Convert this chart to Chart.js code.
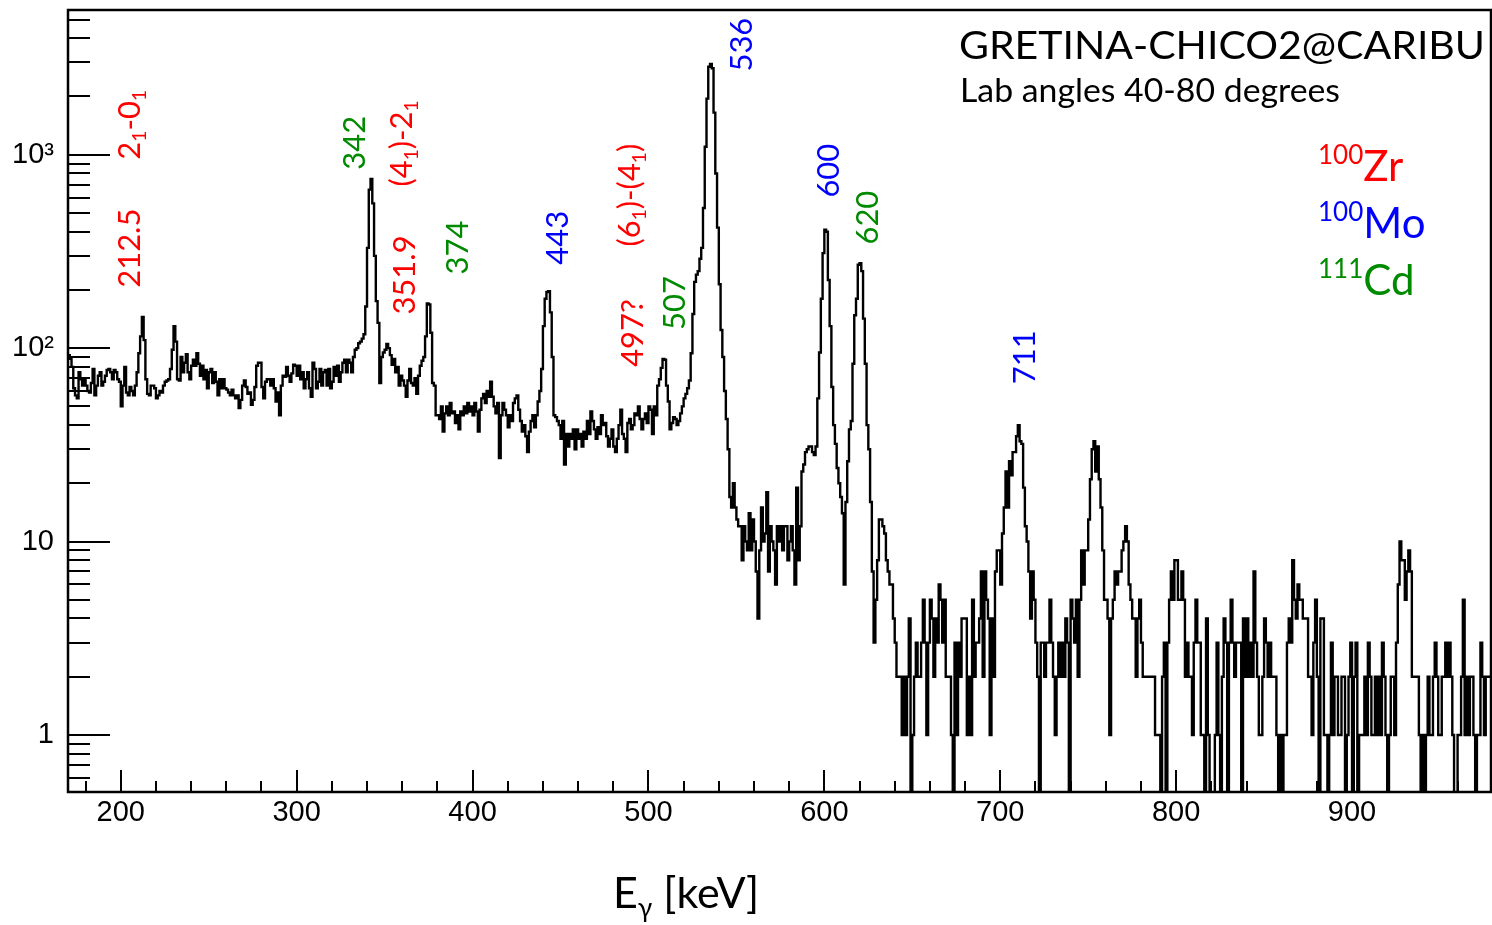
<!DOCTYPE html>
<html>
<head>
<meta charset="utf-8">
<title>GRETINA-CHICO2@CARIBU gamma spectrum</title>
<script src="https://cdn.jsdelivr.net/npm/chart.js@4.4.1/dist/chart.umd.min.js"></script>
<style>
  html, body { margin: 0; padding: 0; background: #fff; }
  #wrap { width: 1492px; height: 925px; }
</style>
</head>
<body>
<div id="wrap"><canvas id="spectrum" width="1492" height="925"></canvas></div>
<script>
(function () {
    "use strict";

    // Spectrum data: 1 keV bins starting at 170 keV
    var binStart = 170;
    var binWidth = 1;
    var counts = [
        // 170
        92, 88, 80, 62, 57, 55, 75, 69, 64, 69,
        64, 60, 59, 66, 78, 57, 64, 72, 75, 64,
        67, 72, 77, 78, 75, 69, 77, 75, 69, 67,
        50, 64, 80, 59, 57, 63, 60, 57, 64, 75,
        94, 115, 145, 110, 69, 58, 57, 64, 64, 62,
        55, 57, 60, 59, 64, 67, 68, 69, 78, 98,
        130, 108, 69, 68, 90, 75, 84, 93, 75, 69,
        81, 87, 81, 94, 83, 72, 81, 69, 77, 62,
        75, 78, 66, 75, 67, 57, 69, 62, 69, 62,
        61, 59, 57, 61, 57, 55, 57, 49, 54, 64,
        68, 63, 58, 59, 51, 54, 63, 81, 84, 84,
        63, 55, 67, 69, 69, 64, 69, 62, 53, 59,
        45, 64, 72, 71, 80, 72, 67, 74, 82, 81,
        // 300
        72, 81, 69, 75, 62, 69, 75, 62, 56, 84,
        78, 62, 67, 78, 64, 75, 77, 64, 78, 62,
        67, 80, 72, 81, 67, 75, 84, 87, 75, 87,
        84, 75, 90, 98, 100, 106, 108, 112, 118, 164,
        330, 660, 750, 560, 300, 175, 135, 66, 90, 95,
        98, 105, 100, 92, 82, 88, 75, 80, 64, 72,
        68, 64, 56, 68, 78, 66, 64, 70, 58, 72,
        81, 86, 90, 115, 170, 168, 120, 66, 64, 45,
        45, 43, 50, 37, 46, 50, 45, 52, 46, 47,
        41, 45, 38, 47, 45, 50, 46, 52, 47, 50,
        // 400
        45, 52, 47, 37, 48, 55, 58, 52, 60, 56,
        67, 56, 50, 46, 52, 27, 45, 52, 48, 45,
        39, 45, 42, 52, 55, 57, 48, 42, 37, 40,
        35, 29, 37, 42, 45, 39, 45, 53, 60, 78,
        130, 180, 195, 197, 153, 90, 45, 44, 42, 40,
        34, 42, 25, 36, 31, 36, 34, 38, 30, 38,
        34, 36, 31, 37, 34, 42, 36, 47, 42, 38,
        34, 39, 36, 45, 40, 41, 35, 31, 34, 38,
        31, 29, 34, 40, 48, 36, 34, 29, 41, 43,
        38, 40, 46, 45, 50, 43, 38, 43, 46, 41,
        // 500
        50, 48, 36, 50, 45, 64, 69, 79, 88, 87,
        64, 53, 38, 41, 44, 43, 40, 42, 46, 50,
        55, 58, 62, 68, 94, 150, 220, 240, 250, 290,
        330, 530, 1100, 1950, 2850, 2950, 2800, 1650, 800, 420,
        214, 124, 90, 60, 43, 30, 17, 15, 20, 15,
        13, 12, 12, 8, 12, 10, 9, 14, 9, 13,
        10, 7, 4, 9, 15, 10, 11, 18, 7, 12,
        10, 9, 6, 12, 10, 12, 9, 12, 12, 8,
        10, 12, 9, 6, 19, 8, 12, 23, 25, 29,
        30, 31, 31, 29, 28, 31, 55, 95, 180, 310,
        // 600
        410, 400, 225, 130, 63, 40, 32, 24, 20, 17,
        14, 6, 16, 26, 38, 42, 83, 148, 180, 270,
        275, 250, 142, 83, 40, 30, 16, 7, 3, 5,
        8, 13, 13, 12, 11, 8, 7, 6, 6, 4,
        3, 2, 2, 2, 1, 2, 1, 2, 4, 0,
        1, 2, 3, 2, 2, 3, 5, 3, 1, 3,
        5, 4, 2, 4, 3, 6, 5, 3, 5, 2,
        2, 2, 1, 0, 3, 1, 3, 2, 4, 4,
        4, 1, 2, 1, 5, 2, 3, 3, 4, 7,
        2, 7, 5, 4, 1, 4, 2, 7, 9, 9,
        // 700
        6, 11, 15, 23, 15, 26, 22, 29, 29, 35,
        40, 33, 32, 19, 12, 10, 7, 4, 7, 5,
        3, 2, 0, 3, 3, 2, 3, 3, 5, 3,
        2, 1, 2, 3, 2, 3, 2, 4, 3, 0,
        5, 4, 3, 5, 2, 5, 9, 6, 9, 9,
        13, 21, 30, 33, 23, 31, 21, 15, 9, 5,
        5, 4, 1, 4, 5, 7, 6, 7, 7, 9,
        10, 12, 10, 6, 5, 4, 4, 2, 4, 5,
        3, 2, 2, 2, 2, 2, 2, 2, 1, 1,
        1, 0, 2, 3, 0, 3, 5, 7, 5, 8,
        // 800
        8, 5, 5, 7, 5, 2, 3, 2, 2, 1,
        3, 5, 3, 3, 1, 1, 0, 4, 1, 0,
        0, 0, 1, 3, 1, 0, 2, 4, 3, 0,
        3, 5, 3, 2, 3, 3, 3, 0, 4, 2,
        4, 2, 3, 2, 7, 3, 2, 1, 1, 2,
        4, 3, 2, 3, 2, 2, 2, 1, 0, 1,
        0, 1, 1, 3, 4, 3, 8, 5, 4, 6,
        5, 5, 4, 4, 4, 2, 2, 1, 3, 5,
        2, 0, 4, 4, 1, 1, 0, 1, 3, 1,
        2, 2, 1, 1, 2, 2, 0, 1, 2, 3,
        // 900
        0, 2, 3, 0, 1, 1, 1, 2, 1, 3,
        2, 1, 1, 2, 1, 2, 1, 3, 2, 1,
        0, 1, 2, 2, 1, 3, 6, 10, 8, 8,
        5, 7, 9, 7, 2, 2, 2, 2, 1, 0,
        1, 0, 1, 2, 1, 1, 2, 3, 2, 1,
        1, 2, 2, 3, 2, 3, 2, 1, 0, 0,
        1, 1, 2, 5, 1, 2, 1, 2, 2, 1,
        0, 1, 1, 3, 2, 1, 2, 2, 2
    ];

    // Axis ranges and tick labels
    var xRange = [170, 979];
    var yRange = [0.507, 5600];
    var xTickValues = [200, 300, 400, 500, 600, 700, 800, 900];
    var yTickValues = [1, 10, 100, 1000];
    var yTickLabels = ['1', '10', '10\u00b2', '10\u00b3'];

    // Peak annotations (text, baseline energy, counts where the text starts)
    var RED = '#ff0000', GREEN = '#008a00', BLUE = '#0000ff';
    var peakTexts  = ['2_{1}-0_{1}', '212.5', '342', '(4_{1})-2_{1}', '351.9', '374', '443',
                      '(6_{1})-(4_{1})', '497?', '507', '536', '600', '620', '711'];
    var peakColors = [RED, RED, GREEN, RED, RED, GREEN, BLUE, RED, RED, GREEN, BLUE, BLUE, GREEN, BLUE];
    var peakTextE  = [210.8, 210.8, 338.7, 365.4, 367.2, 397.3, 454.2, 495.1, 496.8, 520.7, 558.8, 608.2, 630.4, 719.7];
    var peakTextC  = [943, 205, 837, 684, 149, 240, 270, 335, 80, 124, 2690, 600, 343, 65];

    // Nuclei legend
    var nuclei = ['^{100}Zr', '^{100}Mo', '^{111}Cd'];
    var nucleiColors = [RED, BLUE, GREEN];

    var points = counts.map(function (c, i) {
        // empty bins fall below the frame, as in ROOT
        return { x: binStart + (i + 0.5) * binWidth, y: c > 0 ? c : 0.1 };
    });

    // Small TLatex-like helper: _{sub} and ^{sup}
    function parseRich(str) {
        var parts = [], re = /([_^])\{([^}]*)\}|([^_^]+)/g, m;
        while ((m = re.exec(str))) {
            if (m[3]) parts.push({ t: m[3], k: 0 });
            else parts.push({ t: m[2], k: m[1] === '_' ? -1 : 1 });
        }
        return parts;
    }

    function drawRich(ctx, str, x, y, size, color, vertical, fitWidth) {
        var parts = parseRich(str);
        ctx.save();
        ctx.translate(x, y);
        if (vertical) ctx.rotate(-Math.PI / 2);
        ctx.fillStyle = color;
        ctx.textAlign = 'left';
        ctx.textBaseline = 'alphabetic';
        if (fitWidth) {
            var w = 0;
            parts.forEach(function (p) {
                ctx.font = (p.k ? size * 0.62 : size) + 'px Lato';
                w += ctx.measureText(p.t).width;
            });
            ctx.scale(fitWidth / w, 1);
        }
        var cx = 0;
        parts.forEach(function (p) {
            ctx.font = (p.k ? size * 0.62 : size) + 'px Lato';
            var dy = p.k < 0 ? size * 0.2 : (p.k > 0 ? -size * 0.4 : 0);
            ctx.fillText(p.t, cx, dy);
            cx += ctx.measureText(p.t).width;
        });
        ctx.restore();
    }

    // Frame, inside ticks and all the text on top
    var rootStyle = {
        id: 'rootStyle',
        afterDraw: function (chart) {
            var ctx = chart.ctx, a = chart.chartArea;
            var xs = chart.scales.x, ys = chart.scales.y;
            ctx.save();
            ctx.strokeStyle = '#000';
            ctx.lineWidth = 2;
            ctx.beginPath();
            for (var v = 180; v <= xRange[1]; v += 20) {
                var px = Math.round(xs.getPixelForValue(v));
                ctx.moveTo(px, a.bottom);
                ctx.lineTo(px, a.bottom - (v % 100 === 0 ? 22 : 11));
            }
            for (var e = -1; e <= 3; e++) {
                for (var k = 1; k <= 9; k++) {
                    var val = k * Math.pow(10, e);
                    if (val < yRange[0] || val > yRange[1]) continue;
                    var py = Math.round(ys.getPixelForValue(val));
                    ctx.moveTo(a.left, py);
                    ctx.lineTo(a.left + (k === 1 ? 42 : 22), py);
                }
            }
            ctx.stroke();
            ctx.lineWidth = 2.5;
            ctx.strokeRect(a.left, a.top, a.right - a.left, a.bottom - a.top);
            ctx.restore();

            peakTexts.forEach(function (t, i) {
                drawRich(ctx, t, xs.getPixelForValue(peakTextE[i]), ys.getPixelForValue(peakTextC[i]),
                    31, peakColors[i], true);
            });

            drawRich(ctx, 'GRETINA-CHICO2@CARIBU', 959, 59, 38, '#000', false, 526);
            drawRich(ctx, 'Lab angles 40-80 degrees', 960, 102, 32, '#000', false, 380);

            nuclei.forEach(function (t, i) {
                drawRich(ctx, t, 1318, 181 + i * 57, 42, nucleiColors[i], false);
            });

            drawRich(ctx, 'E_{\u03b3} [keV]', 613, 908, 43, '#000', false);
        }
    };

    var tickFont = { family: 'Liberation Sans, Arial, sans-serif', size: 29 };

    function noPadding(scale) {
        scale.paddingTop = 0;
        scale.paddingBottom = 0;
        scale.paddingLeft = 0;
        scale.paddingRight = 0;
    }

    new Chart(document.getElementById('spectrum').getContext('2d'), {
        type: 'line',
        data: {
            datasets: [{
                label: 'counts',
                data: points,
                stepped: 'middle',
                borderColor: '#000',
                borderWidth: 2.4,
                pointRadius: 0,
                fill: false
            }]
        },
        options: {
            responsive: false,
            animation: false,
            devicePixelRatio: 1,
            layout: { padding: { left: 0, right: 1, top: 10, bottom: 0 } },
            plugins: { legend: { display: false }, tooltip: { enabled: false } },
            scales: {
                x: {
                    type: 'linear',
                    min: xRange[0],
                    max: xRange[1],
                    grid: { display: false, drawTicks: false },
                    border: { display: false },
                    afterBuildTicks: function (scale) {
                        scale.ticks = xTickValues.map(function (v) { return { value: v }; });
                    },
                    ticks: {
                        autoSkip: false,
                        maxRotation: 0,
                        padding: 4,
                        color: '#000',
                        font: tickFont
                    },
                    afterFit: function (scale) { scale.height = 133; noPadding(scale); }
                },
                y: {
                    type: 'logarithmic',
                    min: yRange[0],
                    max: yRange[1],
                    grid: { display: false, drawTicks: false },
                    border: { display: false },
                    afterBuildTicks: function (scale) {
                        scale.ticks = yTickValues.map(function (v) { return { value: v, major: true }; });
                    },
                    ticks: {
                        autoSkip: false,
                        padding: 14,
                        color: '#000',
                        font: tickFont,
                        callback: function (value) {
                            var i = yTickValues.indexOf(value);
                            return i >= 0 ? yTickLabels[i] : '';
                        }
                    },
                    afterFit: function (scale) { scale.width = 68; noPadding(scale); }
                }
            }
        },
        plugins: [rootStyle]
    });
})();
</script>
</body>
</html>
